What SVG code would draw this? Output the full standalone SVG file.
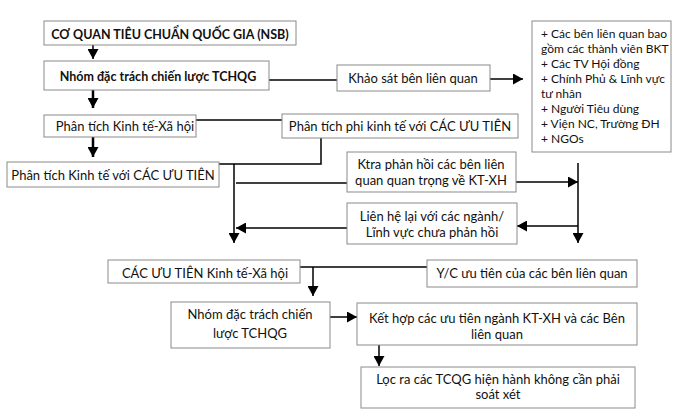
<svg xmlns="http://www.w3.org/2000/svg" width="680" height="418" viewBox="0 0 680 418">
<defs>
<marker id="ah" markerUnits="userSpaceOnUse" markerWidth="11" markerHeight="11" refX="10" refY="5.5" orient="auto">
<path d="M0,0 L10,5.5 L0,11 z" fill="#000"/>
</marker>
<style>
.box{fill:#fff;stroke:#8a8a8a;stroke-width:1}
.t{font-family:Lato,"Liberation Sans",sans-serif;font-size:13px;fill:#111;text-anchor:middle}
.b{font-weight:bold;font-size:12.5px}
.l{font-family:Lato,"Open Sans",sans-serif;font-size:12px;fill:#111}
.c{fill:none;stroke:#000;stroke-width:1.5}
.k{stroke-width:2.5}
</style>
</defs>
<rect width="680" height="418" fill="#fff"/>
<g id="connectors">
<path class="c" d="M93,45 V59" marker-end="url(#ah)"/>
<path class="c" d="M269,80 H337"/>
<path class="c" d="M490,79 H523" marker-end="url(#ah)"/>
<path class="c k" d="M93,90 V108" marker-end="url(#ah)"/>
<path class="c" d="M196,120 H282"/>
<path class="c k" d="M93,137 V157" marker-end="url(#ah)"/>
<path class="c" d="M321,138 V164 H219"/>
<path class="c" d="M234,164 V243" marker-end="url(#ah)"/>
<path class="c" d="M236,183 H347"/>
<path class="c" d="M516,182 H578" marker-end="url(#ah)"/>
<path class="c" d="M578,163 V243" marker-end="url(#ah)"/>
<path class="c" d="M578,226 H517" marker-end="url(#ah)"/>
<path class="c" d="M347,228 H236" marker-end="url(#ah)"/>
<path class="c" d="M300,267 H427"/>
<path class="c" d="M313,267 V296" marker-end="url(#ah)"/>
<path class="c" d="M330,317 H357" marker-end="url(#ah)"/>
<path class="c" d="M379,345 V366" marker-end="url(#ah)"/>
</g>
<g id="nsb"><rect class="box" x="44" y="21" width="252" height="24"/><text class="t b" x="170" y="39">CƠ QUAN TIÊU CHUẨN QUỐC GIA (NSB)</text></g>
<g id="nhom1"><rect class="box" x="44" y="61" width="225" height="29"/><text class="t b" x="158" y="81">Nhóm đặc trách chiến lược TCHQG</text></g>
<g id="khaosat"><rect class="box" x="337" y="65" width="153" height="26"/><text class="t" x="413" y="83">Khảo sát bên liên quan</text></g>
<g id="list"><rect class="box" x="532" y="21" width="139" height="131"/>
<text class="l" x="541" y="38">+ Các bên liên quan bao</text>
<text class="l" x="541" y="53">gồm các thành viên BKT</text>
<text class="l" x="541" y="68">+ Các TV Hội đồng</text>
<text class="l" x="541" y="83">+ Chính Phủ &amp; Lĩnh vực</text>
<text class="l" x="541" y="98">tư nhân</text>
<text class="l" x="541" y="113">+ Người Tiêu dùng</text>
<text class="l" x="541" y="128">+ Viện NC, Trường ĐH</text>
<text class="l" x="541" y="143">+ NGOs</text>
</g>
<g id="ptktxh"><rect class="box" x="44" y="115" width="152" height="22"/><text class="t" x="125" y="131">Phân tích Kinh tế-Xã hội</text></g>
<g id="ptphikt"><rect class="box" x="282" y="114" width="236" height="24"/><text class="t" x="400" y="131">Phân tích phi kinh tế với CÁC ƯU TIÊN</text></g>
<g id="ptkt"><rect class="box" x="7" y="162" width="212" height="25"/><text class="t" x="113" y="180">Phân tích Kinh tế với CÁC ƯU TIÊN</text></g>
<g id="ktra"><rect class="box" x="347" y="152" width="169" height="40"/><text class="t" x="431" y="169">Ktra phản hồi các bên liên</text><text class="t" x="431" y="185">quan quan trọng về KT-XH</text></g>
<g id="lienhe"><rect class="box" x="347" y="203" width="170" height="41"/><text class="t" x="432" y="221">Liên hệ lại với các ngành/</text><text class="t" x="432" y="237">Lĩnh vực chưa phản hồi</text></g>
<g id="uutien"><rect class="box" x="108" y="260" width="192" height="23"/><text class="t" x="205" y="278">CÁC ƯU TIÊN Kinh tế-Xã hội</text></g>
<g id="yc"><rect class="box" x="427" y="260" width="210" height="27"/><text class="t" x="532" y="278">Y/C ưu tiên của các bên liên quan</text></g>
<g id="nhom2"><rect class="box" x="171" y="302" width="159" height="46"/><text class="t" x="250" y="319">Nhóm đặc trách chiến</text><text class="t" x="250" y="338">lược TCHQG</text></g>
<g id="kethop"><rect class="box" x="357" y="303" width="280" height="42"/><text class="t" x="497" y="323">Kết hợp các ưu tiên ngành KT-XH và các Bên</text><text class="t" x="497" y="339">liên quan</text></g>
<g id="loc"><rect class="box" x="361" y="367" width="274" height="41"/><text class="t" x="498" y="384">Lọc ra các TCQG hiện hành không cần phải</text><text class="t" x="498" y="399">soát xét</text></g>
</svg>
